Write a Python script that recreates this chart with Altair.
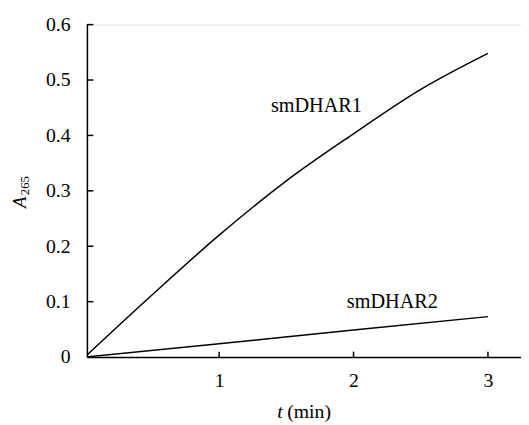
import altair as alt
import pandas as pd

# ---- data ----
t1 = [0.0, 0.5, 1.0, 1.5, 2.0, 2.5, 3.0]
a1 = [0.0, 0.112, 0.220, 0.318, 0.403, 0.483, 0.548]
t2 = [0.0, 1.0, 2.0, 3.0]
a2 = [0.0, 0.024, 0.049, 0.073]
series_names = ["smDHAR1", "smDHAR2"]
label_t = [1.385, 1.95]
label_a = [0.443, 0.089]
x_ticks = [1, 2, 3]
y_ticks = [0.1, 0.2, 0.3, 0.4, 0.5, 0.6]
y_labels = [0, 0.1, 0.2, 0.3, 0.4, 0.5, 0.6]
y_title_main, y_title_sub = "A", "265"
x_title_main, x_title_rest = "t", "(min)"

W, H = 440, 337
FONT = "Liberation Serif"
X0, X1 = 0.016, 3.246
TICK_A = 5.5 / H * 0.6   # inward x-tick length in y units

df1 = pd.DataFrame({"t": t1, "a": a1, "s": series_names[0]})
df2 = pd.DataFrame({"t": t2, "a": a2, "s": series_names[1]})
curves = pd.concat([df1, df2], ignore_index=True)
lab = pd.DataFrame({"t": label_t, "a": label_a, "s": series_names})

xs = alt.Scale(domain=[X0, X1], nice=False, zero=False)
ys = alt.Scale(domain=[0, 0.6], nice=False)

xaxis = alt.Axis(values=x_ticks, tickSize=0, grid=False, title=None, format="d",
                 domainColor="black", domainWidth=1.5,
                 labelFont=FONT, labelFontSize=20, labelColor="black",
                 labelPadding=14)
yaxis = alt.Axis(values=y_labels, tickSize=0, grid=False, title=None,
                 domainColor="black", domainWidth=1.5,
                 labelFont=FONT, labelFontSize=20, labelColor="black",
                 labelPadding=17,
                 labelExpr="datum.value == 0 ? '0' : format(datum.value, '.1f')")

lines = alt.Chart(curves).mark_line(color="black", strokeWidth=1.5,
                                    interpolate="monotone", clip=True).encode(
    x=alt.X("t:Q", scale=xs, axis=xaxis),
    y=alt.Y("a:Q", scale=ys, axis=yaxis),
    detail="s:N",
)

labels = alt.Chart(lab).mark_text(font=FONT, fontSize=20.5, align="left",
                                  baseline="alphabetic", color="black").encode(
    x=alt.X("t:Q", scale=xs), y=alt.Y("a:Q", scale=ys), text="s:N")

xtd = pd.DataFrame({"v": x_ticks, "y0": 0.0, "y1": TICK_A})
ytd = pd.DataFrame({"v": y_ticks})
xt = alt.Chart(xtd).mark_rule(color="black", strokeWidth=1.5).encode(
    x=alt.X("v:Q", scale=xs), y=alt.Y("y0:Q", scale=ys), y2="y1:Q")
yt = alt.Chart(ytd).mark_rule(color="black", strokeWidth=1.5).encode(
    y=alt.Y("v:Q", scale=ys), x=alt.value(0), x2=alt.value(6.5))

one = pd.DataFrame({"a": [y_title_main], "b": [y_title_sub],
                    "c": [x_title_main], "d": [x_title_rest]})
yt_main = alt.Chart(one).mark_text(font=FONT, fontSize=19, fontStyle="italic", angle=270,
                                   align="left", baseline="alphabetic", color="black").encode(
    x=alt.value(-62), y=alt.value(186), text="a:N")
yt_sub = alt.Chart(one).mark_text(font=FONT, fontSize=13, angle=270,
                                  align="left", baseline="alphabetic", color="black").encode(
    x=alt.value(-58.5), y=alt.value(173), text="b:N")
xt_main = alt.Chart(one).mark_text(font=FONT, fontSize=20, fontStyle="italic",
                                   align="left", baseline="alphabetic", color="black").encode(
    x=alt.value(193), y=alt.value(H + 62), text="c:N")
xt_rest = alt.Chart(one).mark_text(font=FONT, fontSize=20,
                                   align="left", baseline="alphabetic", color="black").encode(
    x=alt.value(203), y=alt.value(H + 62), text="d:N")

chart = alt.layer(lines, labels, xt, yt, yt_main, yt_sub, xt_main, xt_rest).properties(
    width=W, height=H,
    autosize=alt.AutoSizeParams(type="none"),
    padding={"left": 80, "top": 14, "right": 0, "bottom": 64},
).configure_view(stroke=None).configure(background="white", font=FONT).configure_axis(
    labelFont=FONT).configure_text(font=FONT)

chart.save("out.html", embed_options={"renderer": "svg", "actions": False})
